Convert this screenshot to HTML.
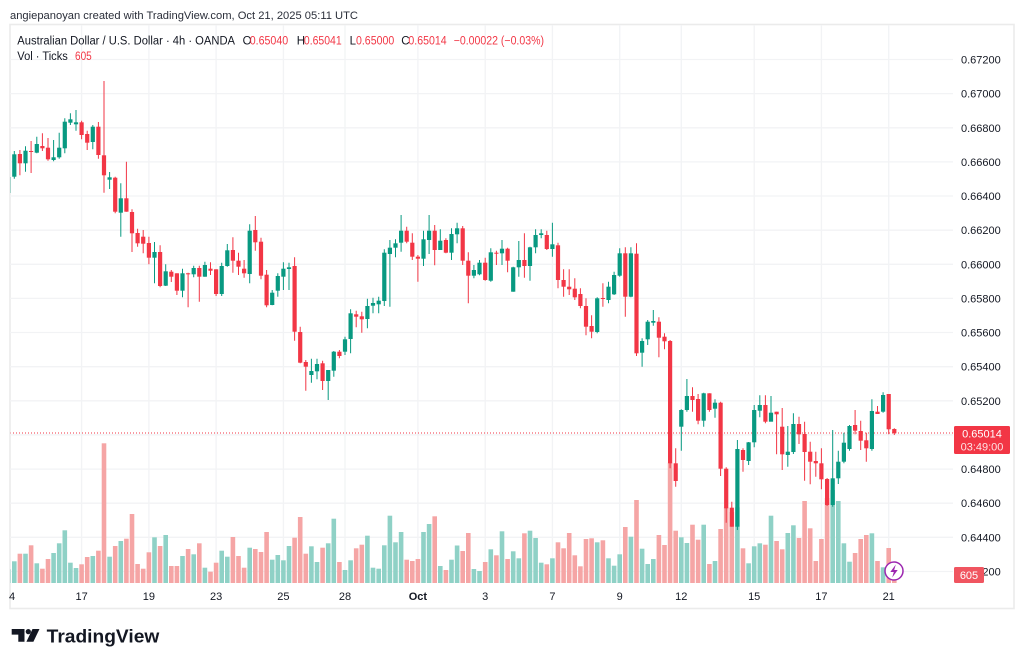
<!DOCTYPE html>
<html><head><meta charset="utf-8"><style>
html,body{margin:0;padding:0;background:#fff;overflow:hidden}
svg{display:block}
text{font-family:"Liberation Sans",Arial,sans-serif}
</style></head><body>
<svg width="1024" height="665" viewBox="0 0 1024 665" xmlns="http://www.w3.org/2000/svg">
<defs><clipPath id="pc"><rect x="10.5" y="25" width="942.5" height="558"/></clipPath></defs>
<rect width="1024" height="665" fill="#fff"/>
<text x="10" y="19" font-size="11" fill="#2a2e39" textLength="348" lengthAdjust="spacingAndGlyphs">angiepanoyan created with TradingView.com, Oct 21, 2025 05:11 UTC</text>
<rect x="10" y="24.5" width="1004" height="584" fill="none" stroke="#ebebeb" stroke-width="1.6"/>
<g stroke="#f2f3f5" stroke-width="1.3">
<path d="M10 59.5H953M10 93.6H953M10 127.8H953M10 161.9H953M10 196H953M10 230.2H953M10 264.3H953M10 298.4H953M10 332.5H953M10 366.7H953M10 400.8H953M10 434.9H953M10 469.1H953M10 503.2H953M10 537.3H953M10 571.5H953"/>
<path d="M81.6 25V583M148.9 25V583M216.1 25V583M283.4 25V583M345 25V583M417.9 25V583M485.2 25V583M552.4 25V583M619.7 25V583M681.3 25V583M754.2 25V583M821.4 25V583M888.7 25V583"/>
</g>
<g font-size="11.5" fill="#131722">
<text x="17.3" y="44.5" textLength="217.7" lengthAdjust="spacingAndGlyphs">Australian Dollar / U.S. Dollar · 4h · OANDA</text>
<text x="242.6" y="44.5">O</text><text x="296.8" y="44.5">H</text><text x="349.6" y="44.5">L</text><text x="401.3" y="44.5">C</text>
<text x="17.3" y="59.8" textLength="50.5" lengthAdjust="spacingAndGlyphs">Vol · Ticks</text>
</g>
<g font-size="11.5" fill="#f23645">
<text x="249.7" y="44.5" textLength="38.5" lengthAdjust="spacingAndGlyphs">0.65040</text>
<text x="303.9" y="44.5" textLength="37.8" lengthAdjust="spacingAndGlyphs">0.65041</text>
<text x="356" y="44.5" textLength="38.2" lengthAdjust="spacingAndGlyphs">0.65000</text>
<text x="408.4" y="44.5" textLength="38.2" lengthAdjust="spacingAndGlyphs">0.65014</text>
<text x="453.7" y="44.5" textLength="90.3" lengthAdjust="spacingAndGlyphs">−0.00022 (−0.03%)</text>
<text x="75" y="59.8" textLength="16.7" lengthAdjust="spacingAndGlyphs">605</text>
</g>
<g clip-path="url(#pc)">
<g fill="#8fd1c6">
<rect x="6.4" y="569.3" width="4.6" height="13.7"/><rect x="12" y="561.3" width="4.6" height="21.7"/><rect x="23.2" y="553.7" width="4.6" height="29.3"/><rect x="34.5" y="563.3" width="4.6" height="19.7"/><rect x="51.3" y="553" width="4.6" height="30"/><rect x="56.9" y="543.3" width="4.6" height="39.7"/><rect x="62.5" y="530.3" width="4.6" height="52.7"/><rect x="68.1" y="562.7" width="4.6" height="20.3"/><rect x="73.7" y="568" width="4.6" height="15"/><rect x="90.5" y="556" width="4.6" height="27"/><rect x="107.3" y="556.7" width="4.6" height="26.3"/><rect x="118.5" y="541" width="4.6" height="42"/><rect x="152.2" y="537.3" width="4.6" height="45.7"/><rect x="163.4" y="535" width="4.6" height="48"/><rect x="180.2" y="556" width="4.6" height="27"/><rect x="191.4" y="554.3" width="4.6" height="28.7"/><rect x="202.6" y="567.7" width="4.6" height="15.3"/><rect x="219.4" y="550.7" width="4.6" height="32.3"/><rect x="225" y="556.7" width="4.6" height="26.3"/><rect x="247.4" y="547.7" width="4.6" height="35.3"/><rect x="269.9" y="559.7" width="4.6" height="23.3"/><rect x="275.5" y="555" width="4.6" height="28"/><rect x="281.1" y="560.3" width="4.6" height="22.7"/><rect x="286.7" y="546" width="4.6" height="37"/><rect x="309.1" y="546.3" width="4.6" height="36.7"/><rect x="314.7" y="562" width="4.6" height="21"/><rect x="325.9" y="543.3" width="4.6" height="39.7"/><rect x="331.5" y="518.7" width="4.6" height="64.3"/><rect x="342.7" y="570" width="4.6" height="13"/><rect x="348.3" y="560.3" width="4.6" height="22.7"/><rect x="365.1" y="535.7" width="4.6" height="47.3"/><rect x="370.7" y="567.7" width="4.6" height="15.3"/><rect x="376.4" y="568.7" width="4.6" height="14.3"/><rect x="382" y="545.3" width="4.6" height="37.7"/><rect x="387.6" y="515.7" width="4.6" height="67.3"/><rect x="393.2" y="542.3" width="4.6" height="40.7"/><rect x="398.8" y="532" width="4.6" height="51"/><rect x="421.2" y="532" width="4.6" height="51"/><rect x="426.8" y="524" width="4.6" height="59"/><rect x="438" y="566" width="4.6" height="17"/><rect x="449.2" y="559.7" width="4.6" height="23.3"/><rect x="454.8" y="545.5" width="4.6" height="37.5"/><rect x="471.6" y="569" width="4.6" height="14"/><rect x="477.2" y="571" width="4.6" height="12"/><rect x="488.5" y="549.3" width="4.6" height="33.7"/><rect x="499.7" y="531.3" width="4.6" height="51.7"/><rect x="510.9" y="551.3" width="4.6" height="31.7"/><rect x="516.5" y="558.3" width="4.6" height="24.7"/><rect x="527.7" y="530.7" width="4.6" height="52.3"/><rect x="533.3" y="538" width="4.6" height="45"/><rect x="538.9" y="562.7" width="4.6" height="20.3"/><rect x="550.1" y="558.3" width="4.6" height="24.7"/><rect x="594.9" y="542.3" width="4.6" height="40.7"/><rect x="606.2" y="558.3" width="4.6" height="24.7"/><rect x="611.8" y="565.7" width="4.6" height="17.3"/><rect x="617.4" y="554.3" width="4.6" height="28.7"/><rect x="628.6" y="536.7" width="4.6" height="46.3"/><rect x="639.8" y="548.7" width="4.6" height="34.3"/><rect x="645.4" y="564" width="4.6" height="19"/><rect x="651" y="559" width="4.6" height="24"/><rect x="679" y="537.3" width="4.6" height="45.7"/><rect x="684.6" y="543" width="4.6" height="40"/><rect x="701.4" y="524.7" width="4.6" height="58.3"/><rect x="712.7" y="561" width="4.6" height="22"/><rect x="735.1" y="507.3" width="4.6" height="75.7"/><rect x="746.3" y="563.3" width="4.6" height="19.7"/><rect x="751.9" y="546.3" width="4.6" height="36.7"/><rect x="757.5" y="543.3" width="4.6" height="39.7"/><rect x="768.7" y="515.7" width="4.6" height="67.3"/><rect x="785.5" y="533" width="4.6" height="50"/><rect x="791.1" y="525.3" width="4.6" height="57.7"/><rect x="830.4" y="490" width="4.6" height="93"/><rect x="836" y="501" width="4.6" height="82"/><rect x="841.6" y="543.3" width="4.6" height="39.7"/><rect x="847.2" y="561.7" width="4.6" height="21.3"/><rect x="869.6" y="533.3" width="4.6" height="49.7"/><rect x="880.8" y="567.3" width="4.6" height="15.7"/>
</g>
<g fill="#f5a5a5">
<rect x="17.6" y="553.7" width="4.6" height="29.3"/><rect x="28.8" y="545.3" width="4.6" height="37.7"/><rect x="40.1" y="568.7" width="4.6" height="14.3"/><rect x="45.7" y="559" width="4.6" height="24"/><rect x="79.3" y="564.3" width="4.6" height="18.7"/><rect x="84.9" y="557" width="4.6" height="26"/><rect x="96.1" y="550.7" width="4.6" height="32.3"/><rect x="101.7" y="443.3" width="4.6" height="139.7"/><rect x="112.9" y="546" width="4.6" height="37"/><rect x="124.1" y="538.7" width="4.6" height="44.3"/><rect x="129.7" y="514" width="4.6" height="69"/><rect x="135.3" y="564" width="4.6" height="19"/><rect x="140.9" y="568.7" width="4.6" height="14.3"/><rect x="146.6" y="552.3" width="4.6" height="30.7"/><rect x="157.8" y="546" width="4.6" height="37"/><rect x="169" y="566" width="4.6" height="17"/><rect x="174.6" y="566" width="4.6" height="17"/><rect x="185.8" y="549" width="4.6" height="34"/><rect x="197" y="543.3" width="4.6" height="39.7"/><rect x="208.2" y="571.7" width="4.6" height="11.3"/><rect x="213.8" y="562.7" width="4.6" height="20.3"/><rect x="230.6" y="537" width="4.6" height="46"/><rect x="236.2" y="556" width="4.6" height="27"/><rect x="241.8" y="567.7" width="4.6" height="15.3"/><rect x="253" y="549" width="4.6" height="34"/><rect x="258.7" y="552" width="4.6" height="31"/><rect x="264.3" y="532" width="4.6" height="51"/><rect x="292.3" y="537.7" width="4.6" height="45.3"/><rect x="297.9" y="517" width="4.6" height="66"/><rect x="303.5" y="553.7" width="4.6" height="29.3"/><rect x="320.3" y="547.7" width="4.6" height="35.3"/><rect x="337.1" y="562" width="4.6" height="21"/><rect x="353.9" y="548.3" width="4.6" height="34.7"/><rect x="359.5" y="544.7" width="4.6" height="38.3"/><rect x="404.4" y="559.7" width="4.6" height="23.3"/><rect x="410" y="561" width="4.6" height="22"/><rect x="415.6" y="559" width="4.6" height="24"/><rect x="432.4" y="516.3" width="4.6" height="66.7"/><rect x="443.6" y="570" width="4.6" height="13"/><rect x="460.4" y="551" width="4.6" height="32"/><rect x="466" y="533" width="4.6" height="50"/><rect x="482.9" y="562" width="4.6" height="21"/><rect x="494.1" y="555.3" width="4.6" height="27.7"/><rect x="505.3" y="559" width="4.6" height="24"/><rect x="522.1" y="533.3" width="4.6" height="49.7"/><rect x="544.5" y="564.3" width="4.6" height="18.7"/><rect x="555.7" y="542.3" width="4.6" height="40.7"/><rect x="561.3" y="548.3" width="4.6" height="34.7"/><rect x="566.9" y="533" width="4.6" height="50"/><rect x="572.5" y="555.3" width="4.6" height="27.7"/><rect x="578.1" y="566.3" width="4.6" height="16.7"/><rect x="583.7" y="539" width="4.6" height="44"/><rect x="589.3" y="538.3" width="4.6" height="44.7"/><rect x="600.6" y="540.3" width="4.6" height="42.7"/><rect x="623" y="527" width="4.6" height="56"/><rect x="634.2" y="500" width="4.6" height="83"/><rect x="656.6" y="535" width="4.6" height="48"/><rect x="662.2" y="545" width="4.6" height="38"/><rect x="667.8" y="462.7" width="4.6" height="120.3"/><rect x="673.4" y="530.7" width="4.6" height="52.3"/><rect x="690.2" y="524.7" width="4.6" height="58.3"/><rect x="695.8" y="539.7" width="4.6" height="43.3"/><rect x="707.1" y="564" width="4.6" height="19"/><rect x="718.3" y="529" width="4.6" height="54"/><rect x="723.9" y="507.5" width="4.6" height="75.5"/><rect x="729.5" y="512" width="4.6" height="71"/><rect x="740.7" y="548.3" width="4.6" height="34.7"/><rect x="763.1" y="544.7" width="4.6" height="38.3"/><rect x="774.3" y="541" width="4.6" height="42"/><rect x="779.9" y="549.3" width="4.6" height="33.7"/><rect x="796.7" y="538" width="4.6" height="45"/><rect x="802.3" y="501" width="4.6" height="82"/><rect x="807.9" y="528.3" width="4.6" height="54.7"/><rect x="813.5" y="561" width="4.6" height="22"/><rect x="819.1" y="539" width="4.6" height="44"/><rect x="824.8" y="498" width="4.6" height="85"/><rect x="852.8" y="553" width="4.6" height="30"/><rect x="858.4" y="539" width="4.6" height="44"/><rect x="864" y="535" width="4.6" height="48"/><rect x="875.2" y="561" width="4.6" height="22"/><rect x="886.4" y="548" width="4.6" height="35"/><rect x="892" y="578" width="4.6" height="5"/>
</g>
<path d="M10 433H953" stroke="#f23645" stroke-width="1" stroke-dasharray="1 2"/>
<path stroke="#089981" stroke-width="1" fill="none" d="M8.7 176V194M14.3 151V178.7M25.5 146.3V171.7M36.8 136.7V153.3M53.6 140V161.3M59.2 132.7V158.7M64.8 118.3V153.3M70.4 113.3V125M76 110V130.7M92.8 125V149.3M109.6 172V189M120.8 183.3V236.7M154.5 242V283.3M165.7 264.3V286M182.5 268.7V297.3M193.7 265.7V277.3M204.9 261.7V276.7M221.7 262.7V296M227.3 244V266.7M249.7 224.3V283.3M272.2 290V305.3M277.8 273.3V296.7M283.4 262.3V290M289 262.7V290M311.4 358.7V382.7M317 358.7V379.3M328.2 370V400M333.8 351V376.7M345 336.7V355M350.6 309.3V353.3M367.4 298.7V328.3M373 297.7V313.3M378.7 296.7V313.3M384.3 249.3V306M389.9 240V306.7M395.5 239.3V257.3M401.1 215V251.7M423.5 230.7V266M429.1 215V254M440.3 229.3V250M451.5 228.3V260M457.1 222.7V243.3M473.9 265V278.3M479.5 260V275.3M490.8 248.3V281.7M502 240V265M513.2 266.7V291.7M518.8 241V276.7M530 246.7V280.7M535.6 229.3V253.3M541.2 229.3V238.3M552.4 222.7V256.7M597.2 297.3V333.3M608.5 281.7V303.3M614.1 271.7V295M619.7 248.3V276.7M630.9 247.3V297.3M642.1 338.3V366.7M647.7 320V345M653.3 310V325.7M681.3 409.3V450.7M686.9 379V411.7M703.7 392.7V426.7M715 399.3V417.7M737.4 440V530M748.6 442V465M754.2 405V447.3M759.8 395.3V417.3M771 396V420.7M787.8 426V466.7M793.4 413.3V454M832.7 430V506.7M838.3 450.7V484M843.9 432.7V463.3M849.5 425V450.7M871.9 399.3V450.7M883.1 392.3V412.7"/>
<g fill="#089981">
<rect x="6.6" y="177" width="4.2" height="16"/><rect x="12.2" y="154.3" width="4.2" height="22.4"/><rect x="23.4" y="150.7" width="4.2" height="12.6"/><rect x="34.7" y="144" width="4.2" height="8.7"/><rect x="51.5" y="157.3" width="4.2" height="2.7"/><rect x="57.1" y="147.7" width="4.2" height="9.6"/><rect x="62.7" y="121.7" width="4.2" height="26.6"/><rect x="68.3" y="119.3" width="4.2" height="3.4"/><rect x="73.9" y="122.3" width="4.2" height="2"/><rect x="90.7" y="126.7" width="4.2" height="15.3"/><rect x="107.5" y="177.3" width="4.2" height="2.4"/><rect x="118.7" y="198.3" width="4.2" height="14.4"/><rect x="152.4" y="252" width="4.2" height="5.7"/><rect x="163.6" y="271.3" width="4.2" height="14.4"/><rect x="180.4" y="273.3" width="4.2" height="17.4"/><rect x="191.6" y="268" width="4.2" height="6.3"/><rect x="202.8" y="265" width="4.2" height="11.7"/><rect x="219.6" y="266" width="4.2" height="28"/><rect x="225.2" y="250.3" width="4.2" height="15.7"/><rect x="247.6" y="230.7" width="4.2" height="43.3"/><rect x="270.1" y="292.7" width="4.2" height="12.3"/><rect x="275.7" y="276" width="4.2" height="14.7"/><rect x="281.3" y="268.7" width="4.2" height="8"/><rect x="286.9" y="267.3" width="4.2" height="1.7"/><rect x="309.3" y="371" width="4.2" height="4"/><rect x="314.9" y="364" width="4.2" height="7.3"/><rect x="326.1" y="370" width="4.2" height="11"/><rect x="331.7" y="351.7" width="4.2" height="19"/><rect x="342.9" y="339.3" width="4.2" height="12.4"/><rect x="348.5" y="313.3" width="4.2" height="25.7"/><rect x="365.3" y="306" width="4.2" height="13"/><rect x="370.9" y="303" width="4.2" height="2.7"/><rect x="376.6" y="300.7" width="4.2" height="3.6"/><rect x="382.2" y="252.7" width="4.2" height="48.3"/><rect x="387.8" y="247.7" width="4.2" height="6.3"/><rect x="393.4" y="243.3" width="4.2" height="4.4"/><rect x="399" y="230.7" width="4.2" height="12"/><rect x="421.4" y="239.3" width="4.2" height="19.4"/><rect x="427" y="230.7" width="4.2" height="9.3"/><rect x="438.2" y="240.7" width="4.2" height="9.3"/><rect x="449.4" y="234" width="4.2" height="18.7"/><rect x="455" y="228.3" width="4.2" height="6"/><rect x="471.8" y="270" width="4.2" height="5.7"/><rect x="477.4" y="262.7" width="4.2" height="11.6"/><rect x="488.7" y="252.3" width="4.2" height="28.4"/><rect x="499.9" y="248.7" width="4.2" height="4.6"/><rect x="511.1" y="267.3" width="4.2" height="24.4"/><rect x="516.7" y="260" width="4.2" height="7.3"/><rect x="527.9" y="247.3" width="4.2" height="18.7"/><rect x="533.5" y="235" width="4.2" height="12.3"/><rect x="539.1" y="233.3" width="4.2" height="1.7"/><rect x="550.3" y="244.3" width="4.2" height="4.7"/><rect x="595.1" y="298.3" width="4.2" height="33.7"/><rect x="606.4" y="286.7" width="4.2" height="13.3"/><rect x="612" y="275" width="4.2" height="19.3"/><rect x="617.6" y="253.3" width="4.2" height="22.4"/><rect x="628.8" y="253.3" width="4.2" height="43.4"/><rect x="640" y="341" width="4.2" height="11.7"/><rect x="645.6" y="321.7" width="4.2" height="17.6"/><rect x="651.2" y="321" width="4.2" height="1.7"/><rect x="679.2" y="410" width="4.2" height="16.7"/><rect x="684.8" y="396" width="4.2" height="14"/><rect x="701.6" y="393.3" width="4.2" height="27.4"/><rect x="712.9" y="402.7" width="4.2" height="6"/><rect x="735.3" y="449" width="4.2" height="77.7"/><rect x="746.5" y="442.3" width="4.2" height="18.7"/><rect x="752.1" y="410" width="4.2" height="32.3"/><rect x="757.7" y="405" width="4.2" height="5.7"/><rect x="768.9" y="412.7" width="4.2" height="9"/><rect x="785.7" y="451.7" width="4.2" height="3.3"/><rect x="791.3" y="424" width="4.2" height="28"/><rect x="830.6" y="478.3" width="4.2" height="26.7"/><rect x="836.2" y="461.7" width="4.2" height="16.6"/><rect x="841.8" y="442.7" width="4.2" height="19"/><rect x="847.4" y="426" width="4.2" height="23"/><rect x="869.8" y="411" width="4.2" height="38"/><rect x="881" y="395" width="4.2" height="16.7"/>
</g>
<path stroke="#f23645" stroke-width="1" fill="none" d="M19.9 150V175.3M31.1 141V173M42.4 133.3V151M48 138V160.7M81.6 120.7V139.3M87.2 130.7V150M98.4 122V158.7M104 81V192.7M115.2 176.7V213.3M126.4 161.7V211.7M132 209.3V252M137.6 228.7V246.7M143.2 230V253.3M148.9 236.7V264.3M160.1 245.3V287.3M171.3 270V282M176.9 273.3V295M188.1 272.7V307.3M199.3 265.7V301.7M210.5 262.3V275M216.1 269.3V296M232.9 237.3V272.7M238.5 252.7V275M244.1 260V277.7M255.3 216V250.7M261 237.7V279.3M266.6 270V307.3M294.6 257.3V340.7M300.2 326.7V363.3M305.8 360V390.7M322.6 360.7V390M339.4 350V358.3M356.2 310.7V327.3M361.8 311.7V332.7M406.7 226.7V243.3M412.3 233.3V260M417.9 255V281.7M434.7 225V265.3M445.9 238.3V253.3M462.7 226V265M468.3 252.3V303.3M485.2 257.7V280.7M496.4 250.7V265M507.6 247.7V272.3M524.4 233.3V277.7M546.8 230.7V250M558 242.7V288.3M563.6 269.3V296.7M569.2 269.3V295M574.8 278.3V300M580.4 288.3V308.3M586 298.3V335.3M591.6 315.3V338.3M602.9 283.3V306.7M625.3 247.3V316.7M636.5 243.3V356M658.9 317.3V357.3M664.5 333.3V349.3M670.1 340V468.3M675.7 448.3V486.7M692.5 387.3V411.7M698.1 394V424.3M709.4 393.3V411.7M720.6 401.7V476M726.2 467.3V522.7M731.8 501.7V526.7M743 448.3V471.7M765.4 395.3V423.3M776.6 411.7V454.3M782.2 408V470M799 416.7V444M804.6 421.7V480.7M810.2 441.7V484.3M815.8 451.7V476.7M821.4 448.3V489.3M827.1 478V506M855.1 410V434.3M860.7 420.7V450M866.3 432.7V461.7M877.5 406V414M888.7 394V434.3M894.3 428.3V435"/>
<g fill="#f23645">
<rect x="17.8" y="154" width="4.2" height="9.3"/><rect x="29" y="151" width="4.2" height="1"/><rect x="40.3" y="146" width="4.2" height="2.3"/><rect x="45.9" y="147.7" width="4.2" height="11.6"/><rect x="79.5" y="122.3" width="4.2" height="12.7"/><rect x="85.1" y="134" width="4.2" height="8.7"/><rect x="96.3" y="126.7" width="4.2" height="28.3"/><rect x="101.9" y="155.3" width="4.2" height="20"/><rect x="113.1" y="177.7" width="4.2" height="34"/><rect x="124.3" y="198.3" width="4.2" height="13.4"/><rect x="129.9" y="212" width="4.2" height="21.3"/><rect x="135.5" y="233" width="4.2" height="10.3"/><rect x="141.1" y="236.7" width="4.2" height="7"/><rect x="146.8" y="243" width="4.2" height="14.7"/><rect x="158" y="252" width="4.2" height="34"/><rect x="169.2" y="271.7" width="4.2" height="5"/><rect x="174.8" y="273.3" width="4.2" height="17.4"/><rect x="186" y="273.3" width="4.2" height="1"/><rect x="197.2" y="268" width="4.2" height="8.7"/><rect x="208.4" y="268.7" width="4.2" height="2"/><rect x="214" y="269.3" width="4.2" height="24.7"/><rect x="230.8" y="250" width="4.2" height="10.7"/><rect x="236.4" y="260.7" width="4.2" height="6"/><rect x="242" y="268.7" width="4.2" height="4.6"/><rect x="253.2" y="230" width="4.2" height="12.3"/><rect x="258.9" y="241.7" width="4.2" height="34"/><rect x="264.5" y="274.7" width="4.2" height="30.6"/><rect x="292.5" y="266" width="4.2" height="65.7"/><rect x="298.1" y="332" width="4.2" height="30.7"/><rect x="303.7" y="362" width="4.2" height="4.7"/><rect x="320.5" y="363.3" width="4.2" height="17.7"/><rect x="337.3" y="351.7" width="4.2" height="4.3"/><rect x="354.1" y="314.3" width="4.2" height="2.4"/><rect x="359.7" y="316.3" width="4.2" height="3"/><rect x="404.6" y="230.7" width="4.2" height="11"/><rect x="410.2" y="242.7" width="4.2" height="14"/><rect x="415.8" y="256.7" width="4.2" height="2"/><rect x="432.6" y="230.7" width="4.2" height="19.3"/><rect x="443.8" y="240" width="4.2" height="12.7"/><rect x="460.6" y="228.3" width="4.2" height="32.4"/><rect x="466.2" y="260.7" width="4.2" height="15"/><rect x="483.1" y="262.7" width="4.2" height="17.3"/><rect x="494.3" y="252.7" width="4.2" height="1"/><rect x="505.5" y="248.7" width="4.2" height="12"/><rect x="522.3" y="260" width="4.2" height="6"/><rect x="544.7" y="235" width="4.2" height="14"/><rect x="555.9" y="245.3" width="4.2" height="34.7"/><rect x="561.5" y="280" width="4.2" height="6.7"/><rect x="567.1" y="286.7" width="4.2" height="2.6"/><rect x="572.7" y="288.7" width="4.2" height="8.6"/><rect x="578.3" y="294" width="4.2" height="12"/><rect x="583.9" y="306" width="4.2" height="20.7"/><rect x="589.5" y="326" width="4.2" height="5.7"/><rect x="600.8" y="298" width="4.2" height="1"/><rect x="623.2" y="253.3" width="4.2" height="43.4"/><rect x="634.4" y="253.7" width="4.2" height="99.6"/><rect x="656.8" y="321.7" width="4.2" height="16"/><rect x="662.4" y="336.7" width="4.2" height="4.6"/><rect x="668" y="341" width="4.2" height="122.3"/><rect x="673.6" y="463.3" width="4.2" height="17.7"/><rect x="690.4" y="396" width="4.2" height="4"/><rect x="696" y="399" width="4.2" height="21.7"/><rect x="707.3" y="393.3" width="4.2" height="16.7"/><rect x="718.5" y="402.7" width="4.2" height="66"/><rect x="724.1" y="468.7" width="4.2" height="39.6"/><rect x="729.7" y="507.7" width="4.2" height="19"/><rect x="740.9" y="450" width="4.2" height="10"/><rect x="763.3" y="405" width="4.2" height="16.7"/><rect x="774.5" y="411.7" width="4.2" height="2.6"/><rect x="780.1" y="426.7" width="4.2" height="27.6"/><rect x="796.9" y="424" width="4.2" height="10.3"/><rect x="802.5" y="434" width="4.2" height="18"/><rect x="808.1" y="451.7" width="4.2" height="10"/><rect x="813.7" y="461" width="4.2" height="2.3"/><rect x="819.3" y="463.3" width="4.2" height="16"/><rect x="825" y="479" width="4.2" height="26"/><rect x="853" y="425" width="4.2" height="5.7"/><rect x="858.6" y="431" width="4.2" height="9.7"/><rect x="864.2" y="440.3" width="4.2" height="8"/><rect x="875.4" y="411.7" width="4.2" height="2.3"/><rect x="886.6" y="394" width="4.2" height="35.3"/><rect x="892.2" y="429" width="4.2" height="4.3"/>
</g>
</g>
<circle cx="894" cy="571" r="9" fill="#fff" stroke="#9c27b0" stroke-width="1.5"/>
<path d="M895.8 564.5L890.3 572H893.8L892.2 577.5L897.7 570H894.2Z" fill="#9c27b0"/>
<g font-size="11" fill="#131722">
<text x="961" y="63.5">0.67200</text><text x="961" y="97.6">0.67000</text><text x="961" y="131.8">0.66800</text><text x="961" y="165.9">0.66600</text><text x="961" y="200">0.66400</text><text x="961" y="234.2">0.66200</text><text x="961" y="268.3">0.66000</text><text x="961" y="302.4">0.65800</text><text x="961" y="336.5">0.65600</text><text x="961" y="370.7">0.65400</text><text x="961" y="404.8">0.65200</text><text x="961" y="473.1">0.64800</text><text x="961" y="507.2">0.64600</text><text x="961" y="541.3">0.64400</text><text x="961" y="575.5">0.64200</text>
</g>
<rect x="954" y="426" width="56" height="28" rx="1.5" fill="#f23645"/>
<text x="982" y="437.5" font-size="11" fill="#fff" text-anchor="middle">0.65014</text>
<text x="982" y="450.5" font-size="11" fill="#fde3e5" text-anchor="middle">03:49:00</text>
<rect x="954" y="567" width="30" height="16" rx="1.5" fill="#f05560"/>
<text x="969" y="579" font-size="11" fill="#fff" text-anchor="middle">605</text>
<g font-size="11" fill="#131722" text-anchor="middle">
<text x="12" y="600">4</text><text x="81.6" y="600">17</text><text x="148.9" y="600">19</text><text x="216.1" y="600">23</text><text x="283.4" y="600">25</text><text x="345" y="600">28</text><text x="417.9" y="600" font-weight="bold">Oct</text><text x="485.2" y="600">3</text><text x="552.4" y="600">7</text><text x="619.7" y="600">9</text><text x="681.3" y="600">12</text><text x="754.2" y="600">15</text><text x="821.4" y="600">17</text><text x="888.7" y="600">21</text>
</g>
<g fill="#131722">
<path d="M11.7 629H24.5V641.7H18.3V634.6H11.7Z"/>
<circle cx="28.3" cy="631.6" r="2.6"/>
<path d="M32.5 629H39.5L33.4 641.7H26.4Z"/>
<text x="46.7" y="642.3" font-size="18.5" font-weight="bold" textLength="112.6" lengthAdjust="spacingAndGlyphs">TradingView</text>
</g>
</svg>
</body></html>
